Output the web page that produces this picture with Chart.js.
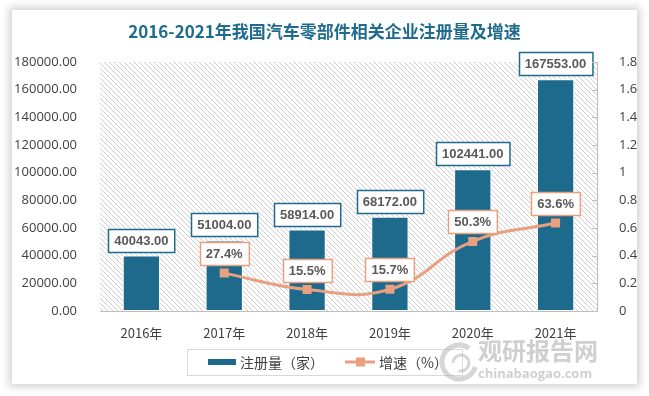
<!DOCTYPE html>
<html>
<head>
<meta charset="utf-8">
<script src="https://cdn.jsdelivr.net/npm/chart.js@4"></script>
<style>
html,body{margin:0;padding:0;background:#fff;width:649px;height:396px;overflow:hidden;}
#card{position:absolute;left:12px;top:10px;width:625px;height:374px;background:#fff;box-shadow:0 0 8px 3px rgba(0,0,0,0.18);}
canvas{display:block;}
</style>
</head>
<body>
<div id="card"><canvas id="c" width="625" height="374"></canvas></div>
<script>
const titleText = '2016-2021年我国汽车零部件相关企业注册量及增速';
const categories = ['2016年','2017年','2018年','2019年','2020年','2021年'];
const registrations = [40043, 51004, 58914, 68172, 102441, 167553];
const growth = [null, 0.274, 0.155, 0.157, 0.503, 0.636];
const growthLabels = [null, '27.4%', '15.5%', '15.7%', '50.3%', '63.6%'];
const seriesNames = ['注册量（家）', '增速（%）'];

const BLUE = '#1e6a8d';
const ORANGE = '#e9a07f';
const CJK = '"Noto Sans CJK SC", "Noto Sans", sans-serif';

const hatch = (() => {
  const p = document.createElement('canvas');
  p.width = 5; p.height = 5;
  const g = p.getContext('2d');
  g.fillStyle = '#cfcfcf';
  for (let i = 0; i < 5; i++) g.fillRect(i, i, 1, 1);
  return p;
})();

const customDraw = {
  id: 'customDraw',
  beforeDatasetsDraw(chart) {
    const {ctx, chartArea: a} = chart;
    ctx.save();
    ctx.fillStyle = ctx.createPattern(hatch, 'repeat');
    ctx.fillRect(a.left, a.top, a.right - a.left, a.bottom - a.top);
    ctx.restore();
  },
  afterDatasetsDraw(chart) {
    const {ctx} = chart;
    ctx.save();
    ctx.font = 'bold 13px "Liberation Sans", Arial, sans-serif';
    ctx.textAlign = 'center';
    ctx.textBaseline = 'middle';
    const drawBox = (x, yBottom, text, border) => {
      const w = ctx.measureText(text).width + 12;
      const h = 23;
      const left = Math.round(x - w / 2) + 0.5, top = Math.round(yBottom - h) + 0.5;
      ctx.fillStyle = '#fff';
      ctx.fillRect(left, top, w, h);
      ctx.strokeStyle = border;
      ctx.lineWidth = 1.5;
      ctx.strokeRect(left, top, w, h);
      ctx.fillStyle = '#595959';
      ctx.fillText(text, x, top + h / 2 + 0.5);
    };
    const barMeta = chart.getDatasetMeta(0);
    barMeta.data.forEach((el, i) => {
      drawBox(el.x, el.y - 4, registrations[i].toFixed(2), BLUE);
    });
    const lineMeta = chart.getDatasetMeta(1);
    lineMeta.data.forEach((el, i) => {
      if (growth[i] == null) return;
      drawBox(el.x, el.y - 8, growthLabels[i], ORANGE);
    });
    ctx.restore();
  },
  afterDraw(chart) {
    const {ctx, chartArea: a} = chart;
    ctx.save();
    // right axis inner ticks
    const y1 = chart.scales.y1;
    ctx.strokeStyle = '#bfbfbf';
    ctx.lineWidth = 1;
    y1.ticks.forEach(t => {
      const y = Math.round(y1.getPixelForValue(t.value)) + 0.5;
      ctx.beginPath(); ctx.moveTo(a.right - 5, y); ctx.lineTo(a.right, y); ctx.stroke();
    });
    // title
    ctx.font = 'bold 17px ' + CJK;
    ctx.fillStyle = '#1f6b8e';
    ctx.textAlign = 'center';
    ctx.textBaseline = 'middle';
    ctx.fillText(titleText, chart.width / 2, 22);
    // legend
    ctx.strokeStyle = '#d9d9d9';
    ctx.strokeRect(175.5, 339.5, 275, 26);
    const ly = 352;
    ctx.fillStyle = BLUE;
    ctx.fillRect(196, ly - 3, 28, 6);
    ctx.font = '14px ' + CJK;
    ctx.fillStyle = '#404040';
    ctx.textAlign = 'left';
    ctx.fillText(chart.data.datasets[0].label, 228, ly + 1);
    ctx.strokeStyle = ORANGE;
    ctx.lineWidth = 3;
    ctx.beginPath(); ctx.moveTo(333, ly); ctx.lineTo(363, ly); ctx.stroke();
    ctx.fillStyle = ORANGE;
    ctx.fillRect(344, ly - 4.5, 9, 9);
    ctx.fillStyle = '#404040';
    ctx.fillText(chart.data.datasets[1].label, 367, ly + 1);
    // watermark
    ctx.globalAlpha = 0.55;
    ctx.strokeStyle = '#b5b5b5';
    ctx.lineWidth = 5;
    ctx.beginPath(); ctx.arc(447, 352, 17, 0.3, Math.PI * 1.7); ctx.stroke();
    ctx.lineWidth = 3;
    ctx.beginPath(); ctx.arc(449, 353, 8, Math.PI, Math.PI * 2.6); ctx.stroke();
    ctx.fillStyle = '#a8a8a8';
    ctx.font = 'bold 24px ' + CJK;
    ctx.fillText('观研报告网', 466, 341);
    ctx.font = 'bold 13px "Open Sans", sans-serif';
    ctx.fillText('chinabaogao.com', 466, 364);
    ctx.restore();
  }
};

new Chart(document.getElementById('c'), {
  data: {
    labels: categories,
    datasets: [
      {
        type: 'bar',
        label: seriesNames[0],
        data: registrations,
        backgroundColor: BLUE,
        borderColor: '#ffffff',
        borderWidth: 1,
        borderSkipped: false,
        barPercentage: 0.45,
        categoryPercentage: 1,
        yAxisID: 'y',
        order: 2
      },
      {
        type: 'line',
        label: seriesNames[1],
        data: growth,
        borderColor: ORANGE,
        backgroundColor: ORANGE,
        borderWidth: 3,
        tension: 0.45,
        pointStyle: 'rect',
        pointRadius: 6.4,
        pointBorderWidth: 0,
        yAxisID: 'y1',
        order: 1
      }
    ]
  },
  options: {
    responsive: false,
    animation: false,
    layout: {padding: {top: 52, left: 0, right: 0, bottom: 0}},
    plugins: {legend: {display: false}, title: {display: false}, tooltip: {enabled: false}},
    scales: {
      x: {
        grid: {display: false},
        border: {display: true, color: '#bfbfbf', width: 1},
        ticks: {color: '#404040', font: {size: 13, family: CJK}, padding: 6},
        afterFit(s) { s.height = 73; }
      },
      y: {
        position: 'left',
        min: 0, max: 180000,
        grid: {display: false},
        border: {display: false},
        ticks: {stepSize: 20000, color: '#404040', font: {size: 13, family: '"Open Sans", sans-serif'}, padding: 15,
          callback: v => Number(v).toFixed(2)},
        afterFit(s) { s.width = 88; }
      },
      y1: {
        position: 'right',
        min: 0, max: 1.8,
        grid: {display: false},
        border: {display: true, color: '#bfbfbf', width: 1},
        ticks: {stepSize: 0.2, color: '#404040', font: {size: 13, family: '"Open Sans", sans-serif'}, padding: 14,
          callback: v => String(Number(Number(v).toFixed(1)))},
        afterFit(s) { s.width = 40; }
      }
    }
  },
  plugins: [customDraw]
});
</script>
</body>
</html>
